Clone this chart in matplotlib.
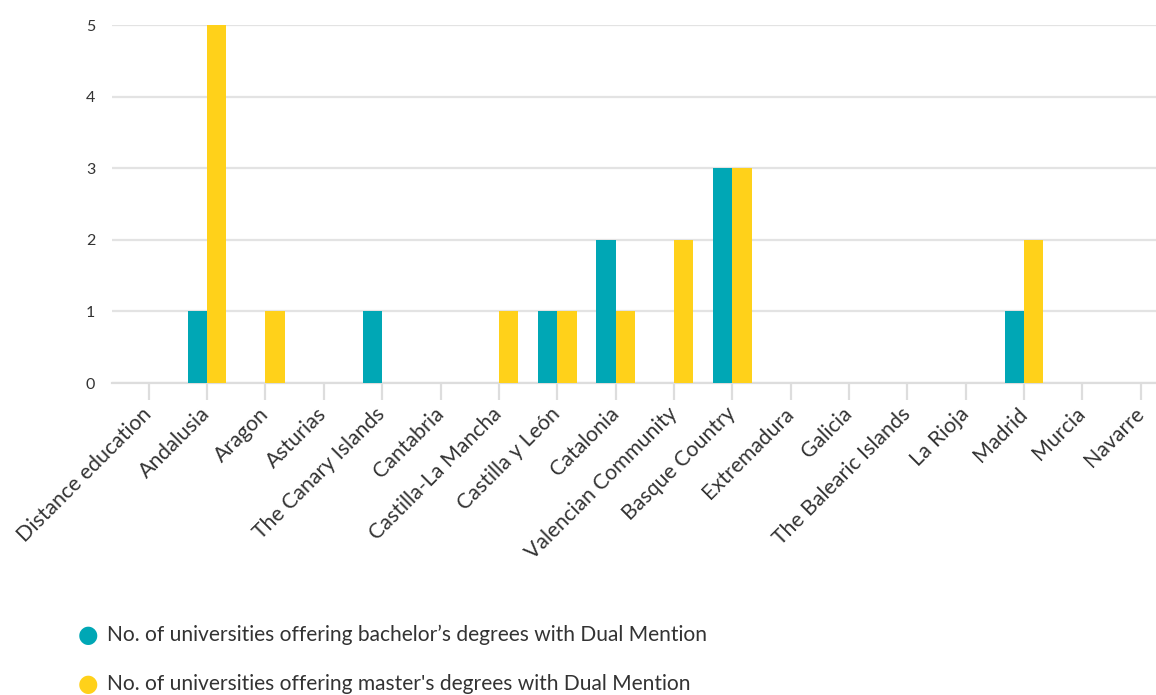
import matplotlib.pyplot as plt
import numpy as np

regions = ['Distance education', 'Andalusia', 'Aragon', 'Asturias', 'The Canary Islands',
           'Cantabria', 'Castilla-La Mancha', 'Castilla y León', 'Catalonia',
           'Valencian Community', 'Basque Country', 'Extremadura', 'Galicia',
           'The Balearic Islands', 'La Rioja', 'Madrid', 'Murcia', 'Navarre']
bachelor = [0, 1, 0, 0, 1, 0, 0, 1, 2, 0, 3, 0, 0, 0, 0, 1, 0, 0]
master = [0, 5, 1, 0, 0, 0, 1, 1, 1, 2, 3, 0, 0, 0, 0, 2, 0, 0]
series_names = ["No. of universities offering bachelor\u2019s degrees with Dual Mention",
                "No. of universities offering master's degrees with Dual Mention"]

teal = '#00a7b5'
yellow = '#ffd11a'
text_color = '#333333'

plt.rcParams['font.family'] = ['Lato', 'DejaVu Sans']

fig = plt.figure(figsize=(11.56, 6.95), dpi=100)
ax = fig.add_axes([0.0969, 0.4489, 0.9031, 0.5151])

x = np.arange(len(regions))
w = 0.33
ax.bar(x - w / 2, bachelor, width=w, color=teal, zorder=3)
ax.bar(x + w / 2, master, width=w, color=yellow, zorder=3)

ax.set_xlim(-0.63, 17.26)
ax.set_ylim(0, 5)
ax.set_yticks(range(6))
ax.grid(axis='y', color='#e3e3e3', linewidth=1.6, zorder=0)
ax.set_axisbelow(True)
for side in ['top', 'right', 'left']:
    ax.spines[side].set_visible(False)
ax.spines['bottom'].set_color('#dddddd')
ax.spines['bottom'].set_linewidth(1.6)

ax.set_xticks(x)
ax.set_xticklabels(regions, rotation=45, ha='right', va='center', rotation_mode='anchor',
                   fontsize=15.3, color=text_color)
ax.tick_params(axis='x', length=12, width=1.6, color='#dddddd', pad=8)
ax.tick_params(axis='y', length=0, pad=12, labelsize=11.5, labelcolor=text_color)

for i, (name, color) in enumerate(zip(series_names, [teal, yellow])):
    y = 1 - (635 + i * 49) / 695
    fig.text(88 / 1156, y, '\u25cf', color=color, fontsize=17, ha='center', va='center',
             family='DejaVu Sans')
    fig.text(107 / 1156, y, name, color=text_color, fontsize=15.1, ha='left', va='center')

fig.savefig('out.png', dpi=100)
